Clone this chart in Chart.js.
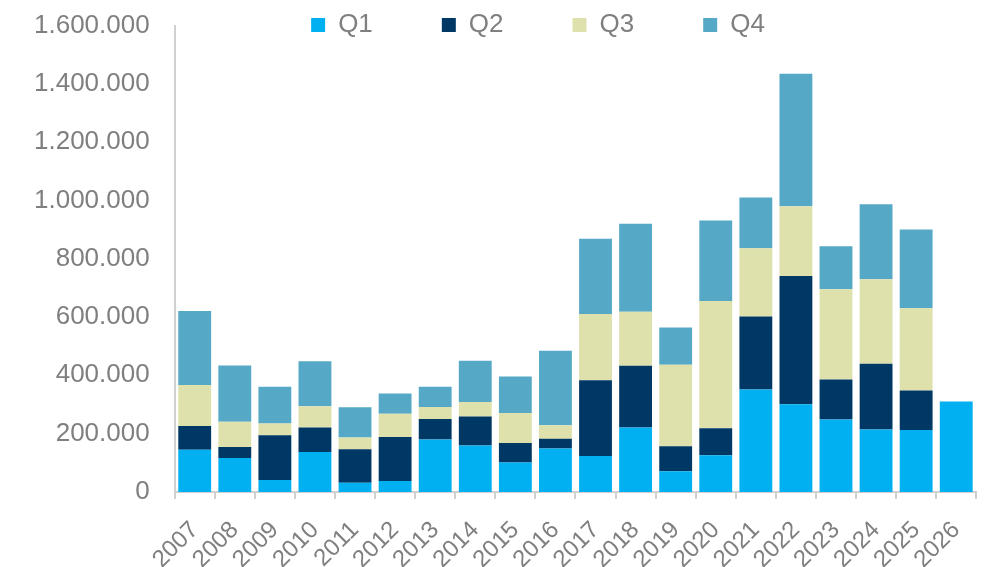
<!DOCTYPE html>
<html>
<head>
<meta charset="utf-8">
<title>Quartalswerte 2007-2026</title>
<script src="https://cdn.jsdelivr.net/npm/chart.js@4/dist/chart.umd.min.js"></script>
<style>
    html, body { margin: 0; padding: 0; background: #FFFFFF; }
    #wrap { width: 994px; height: 567px; }
</style>
</head>
<body>
<div id="wrap"><canvas id="quarterChart" width="994" height="567"></canvas></div>
<script>
// ===== DATOS =====
const years = ['2007', '2008', '2009', '2010', '2011', '2012', '2013', '2014', '2015', '2016',
    '2017', '2018', '2019', '2020', '2021', '2022', '2023', '2024', '2025', '2026'];

const q1 = [145000, 116000, 41000, 137000, 31000, 37000, 180000, 159000, 101000, 149000,
    123000, 221000, 71000, 126000, 351000, 301000, 248000, 214000, 212000, 310000];
const q2 = [81000, 38000, 153000, 84000, 115000, 151000, 70000, 100000, 67000, 33000,
    260000, 212000, 86000, 92000, 251000, 440000, 138000, 226000, 136000, null];
const q3 = [141000, 87000, 41000, 73000, 41000, 80000, 41000, 49000, 103000, 47000,
    227000, 185000, 279000, 437000, 234000, 239000, 309000, 290000, 282000, null];
const q4 = [254000, 193000, 126000, 154000, 103000, 70000, 70000, 142000, 125000, 255000,
    259000, 302000, 128000, 276000, 174000, 455000, 148000, 257000, 270000, null];

const seriesNames = ['Q1', 'Q2', 'Q3', 'Q4'];
const seriesColors = ['#00B0F0', '#003865', '#DEE1AC', '#56A9C6'];

const yTickMax = 1600000;
const yTickStep = 200000;

const TEXT_GREY = '#7F7F7F';
const AXIS_GREY = '#D0D0D0';

Chart.defaults.font.family = "'Liberation Sans', Arial, sans-serif";
Chart.defaults.color = TEXT_GREY;

// 1.600.000 style
function formatThousands(value) {
    return String(Math.round(value)).replace(/\B(?=(\d{3})+(?!\d))/g, '.');
}

// La leyenda ocupa casi nada en el layout y se dibuja encima del área,
// a la altura de la etiqueta superior del eje Y
const legendOverlay = {
    id: 'legendOverlay',
    afterLayout(chart) {
        const lg = chart.legend;
        if (!lg) return;
        const pad = lg.options.labels.padding;
        lg.top = 12 - pad;
        lg.bottom = 60;
        lg.height = lg.bottom - lg.top;
        lg.left += 37;
        lg.right += 37;
        lg.width = lg.right - lg.left;
    }
};

const ctx = document.getElementById('quarterChart');
const datasets = [q1, q2, q3, q4].map((values, i) => ({
    label: seriesNames[i],
    data: values,
    backgroundColor: seriesColors[i],
    borderWidth: 0,
    barPercentage: 0.82,
    categoryPercentage: 1.0
}));

new Chart(ctx, {
    type: 'bar',
    data: {
        labels: years,
        datasets: datasets
    },
    options: {
        responsive: false,
        animation: false,
        layout: {
            padding: { left: 24, right: 16, top: 0, bottom: 0 }
        },
        plugins: {
            legend: {
                position: 'top',
                align: 'center',
                maxHeight: 1,
                labels: {
                    boxWidth: 14,
                    boxHeight: 14,
                    padding: 69,
                    color: TEXT_GREY,
                    font: { size: 26 }
                }
            },
            tooltip: { enabled: false }
        },
        scales: {
            x: {
                stacked: true,
                border: { display: true, color: AXIS_GREY, width: 2 },
                grid: {
                    display: true,
                    drawOnChartArea: false,
                    drawTicks: true,
                    tickLength: 7,
                    color: AXIS_GREY,
                    lineWidth: 2
                },
                ticks: {
                    color: TEXT_GREY,
                    font: { size: 24 },
                    maxRotation: 45,
                    minRotation: 45,
                    autoSkip: false,
                    padding: 17
                },
                // las etiquetas giradas bajan casi hasta el borde del lienzo
                afterFit: function (scale) {
                    scale.height -= 24;
                }
            },
            y: {
                stacked: true,
                min: 0,
                max: yTickMax,
                border: { display: true, color: AXIS_GREY, width: 2 },
                // sin marcas visibles, pero tickLength separa las etiquetas del eje
                grid: { display: false, drawTicks: true, tickLength: 15 },
                ticks: {
                    stepSize: yTickStep,
                    color: TEXT_GREY,
                    font: { size: 26 },
                    padding: 10,
                    callback: function (value) {
                        return formatThousands(value);
                    }
                }
            }
        }
    },
    plugins: [legendOverlay]
});
</script>
</body>
</html>
